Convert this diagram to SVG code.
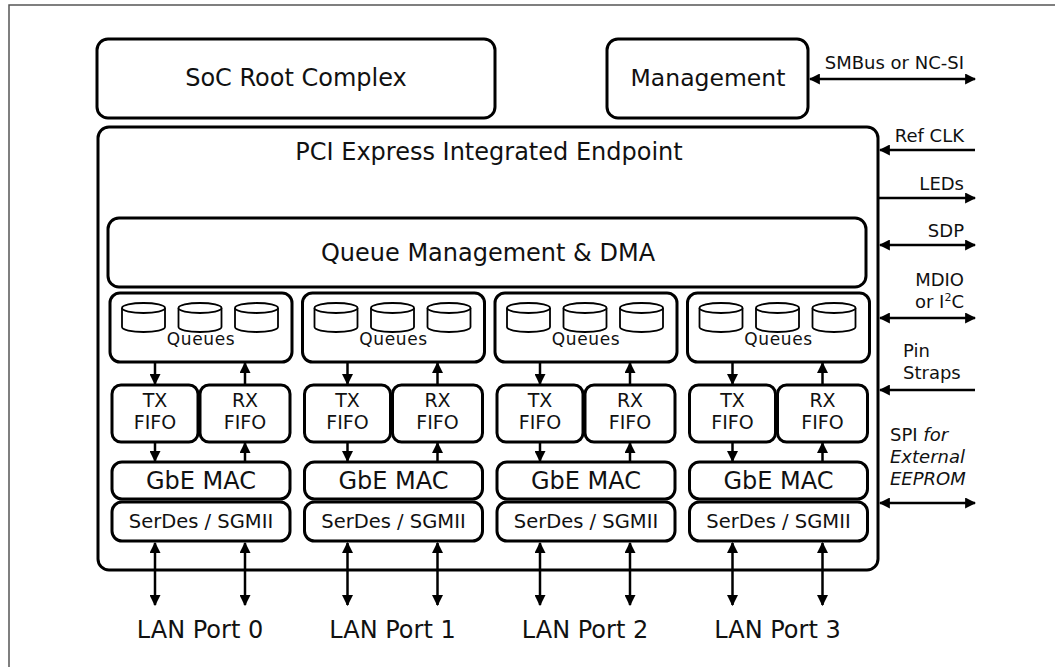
<svg xmlns="http://www.w3.org/2000/svg" width="1055" height="667" viewBox="0 0 1055 667">
<defs>
<style>
.box{fill:#fff;stroke:#000;stroke-width:3}
.cyl{fill:#fff;stroke:#000;stroke-width:1.8}
.con{stroke:#000;stroke-width:2.5;fill:none}
text{font-family:"DejaVu Sans","Verdana",sans-serif;fill:#111}
.big{font-size:24px;text-anchor:middle}
.sm{font-size:18px}
.r{text-anchor:end}
.c{text-anchor:middle}
.q{font-size:17px;letter-spacing:0.6px;text-anchor:middle}
.fifo{font-size:19px;text-anchor:middle}
.mac{font-size:24px;text-anchor:middle}
.ser{font-size:19.5px;text-anchor:middle}
.lan{font-size:24px;text-anchor:middle}
</style>
<marker id="ah" viewBox="0 0 10 10" refX="9" refY="5" markerWidth="11" markerHeight="11" markerUnits="userSpaceOnUse" orient="auto-start-reverse">
<path d="M0,0 L10,5 L0,10 z" fill="#000"/>
</marker>
<g id="cylinder">
<path d="M-21.5,0 L-21.5,19 A21.5,5 0 0 0 21.5,19 L21.5,0" class="cyl"/>
<ellipse cx="0" cy="0" rx="21.5" ry="5" class="cyl"/>
</g>
</defs>
<rect x="0" y="0" width="1055" height="667" fill="#fff"/>
<rect x="9" y="5" width="1100" height="700" fill="none" stroke="#555" stroke-width="1.5"/>

<g id="soc"><rect class="box" x="97" y="39" width="398" height="79" rx="11"/><text class="big" x="296" y="86">SoC Root Complex</text></g>
<g id="management"><rect class="box" x="607" y="39" width="201" height="79" rx="11"/><text class="big" x="708" y="86" style="font-size:23.5px">Management</text></g>
<g id="endpoint"><rect class="box" x="98" y="127" width="780" height="443" rx="11"/><text class="big" x="489" y="160">PCI Express Integrated Endpoint</text></g>
<g id="qdma"><rect class="box" x="108" y="218" width="758" height="69" rx="11"/><text class="big" x="488" y="261">Queue Management &amp; DMA</text></g>

<g id="port0">
<rect class="box" x="110" y="293" width="182" height="69" rx="10"/>
<use href="#cylinder" x="143.5" y="308"/><use href="#cylinder" x="200" y="308"/><use href="#cylinder" x="256.5" y="308"/>
<text class="q" x="201" y="345">Queues</text>
<rect class="box" x="112" y="385" width="86" height="57" rx="9"/>
<rect class="box" x="200" y="385" width="90" height="57" rx="9"/>
<text class="fifo" x="155" y="407">TX</text><text class="fifo" x="155" y="429">FIFO</text>
<text class="fifo" x="245" y="407">RX</text><text class="fifo" x="245" y="429">FIFO</text>
<rect class="box" x="112" y="462" width="178" height="37" rx="10"/>
<text class="mac" x="201" y="489">GbE MAC</text>
<rect class="box" x="112" y="502" width="178" height="39" rx="10"/>
<text class="ser" x="201" y="528">SerDes / SGMII</text>
<text class="lan" x="200" y="638">LAN Port 0</text>
</g>
<g id="port1" transform="translate(192.5,0)">
<rect class="box" x="110" y="293" width="182" height="69" rx="10"/>
<use href="#cylinder" x="143.5" y="308"/><use href="#cylinder" x="200" y="308"/><use href="#cylinder" x="256.5" y="308"/>
<text class="q" x="201" y="345">Queues</text>
<rect class="box" x="112" y="385" width="86" height="57" rx="9"/>
<rect class="box" x="200" y="385" width="90" height="57" rx="9"/>
<text class="fifo" x="155" y="407">TX</text><text class="fifo" x="155" y="429">FIFO</text>
<text class="fifo" x="245" y="407">RX</text><text class="fifo" x="245" y="429">FIFO</text>
<rect class="box" x="112" y="462" width="178" height="37" rx="10"/>
<text class="mac" x="201" y="489">GbE MAC</text>
<rect class="box" x="112" y="502" width="178" height="39" rx="10"/>
<text class="ser" x="201" y="528">SerDes / SGMII</text>
<text class="lan" x="200" y="638">LAN Port 1</text>
</g>
<g id="port2" transform="translate(385,0)">
<rect class="box" x="110" y="293" width="182" height="69" rx="10"/>
<use href="#cylinder" x="143.5" y="308"/><use href="#cylinder" x="200" y="308"/><use href="#cylinder" x="256.5" y="308"/>
<text class="q" x="201" y="345">Queues</text>
<rect class="box" x="112" y="385" width="86" height="57" rx="9"/>
<rect class="box" x="200" y="385" width="90" height="57" rx="9"/>
<text class="fifo" x="155" y="407">TX</text><text class="fifo" x="155" y="429">FIFO</text>
<text class="fifo" x="245" y="407">RX</text><text class="fifo" x="245" y="429">FIFO</text>
<rect class="box" x="112" y="462" width="178" height="37" rx="10"/>
<text class="mac" x="201" y="489">GbE MAC</text>
<rect class="box" x="112" y="502" width="178" height="39" rx="10"/>
<text class="ser" x="201" y="528">SerDes / SGMII</text>
<text class="lan" x="200" y="638">LAN Port 2</text>
</g>
<g id="port3" transform="translate(577.5,0)">
<rect class="box" x="110" y="293" width="182" height="69" rx="10"/>
<use href="#cylinder" x="143.5" y="308"/><use href="#cylinder" x="200" y="308"/><use href="#cylinder" x="256.5" y="308"/>
<text class="q" x="201" y="345">Queues</text>
<rect class="box" x="112" y="385" width="86" height="57" rx="9"/>
<rect class="box" x="200" y="385" width="90" height="57" rx="9"/>
<text class="fifo" x="155" y="407">TX</text><text class="fifo" x="155" y="429">FIFO</text>
<text class="fifo" x="245" y="407">RX</text><text class="fifo" x="245" y="429">FIFO</text>
<rect class="box" x="112" y="462" width="178" height="37" rx="10"/>
<text class="mac" x="201" y="489">GbE MAC</text>
<rect class="box" x="112" y="502" width="178" height="39" rx="10"/>
<text class="ser" x="201" y="528">SerDes / SGMII</text>
<text class="lan" x="200" y="638">LAN Port 3</text>
</g>

<g id="connectors">
<g id="port-links">
<g>
<line class="con" x1="155" y1="363" x2="155" y2="384" marker-end="url(#ah)"/>
<line class="con" x1="245" y1="384" x2="245" y2="363" marker-end="url(#ah)"/>
<line class="con" x1="155" y1="443" x2="155" y2="461" marker-end="url(#ah)"/>
<line class="con" x1="245" y1="461" x2="245" y2="443" marker-end="url(#ah)"/>
<line class="con" x1="155" y1="543" x2="155" y2="605" marker-start="url(#ah)" marker-end="url(#ah)"/>
<line class="con" x1="245" y1="543" x2="245" y2="605" marker-start="url(#ah)" marker-end="url(#ah)"/>
</g>
<g transform="translate(192.5,0)">
<line class="con" x1="155" y1="363" x2="155" y2="384" marker-end="url(#ah)"/>
<line class="con" x1="245" y1="384" x2="245" y2="363" marker-end="url(#ah)"/>
<line class="con" x1="155" y1="443" x2="155" y2="461" marker-end="url(#ah)"/>
<line class="con" x1="245" y1="461" x2="245" y2="443" marker-end="url(#ah)"/>
<line class="con" x1="155" y1="543" x2="155" y2="605" marker-start="url(#ah)" marker-end="url(#ah)"/>
<line class="con" x1="245" y1="543" x2="245" y2="605" marker-start="url(#ah)" marker-end="url(#ah)"/>
</g>
<g transform="translate(385,0)">
<line class="con" x1="155" y1="363" x2="155" y2="384" marker-end="url(#ah)"/>
<line class="con" x1="245" y1="384" x2="245" y2="363" marker-end="url(#ah)"/>
<line class="con" x1="155" y1="443" x2="155" y2="461" marker-end="url(#ah)"/>
<line class="con" x1="245" y1="461" x2="245" y2="443" marker-end="url(#ah)"/>
<line class="con" x1="155" y1="543" x2="155" y2="605" marker-start="url(#ah)" marker-end="url(#ah)"/>
<line class="con" x1="245" y1="543" x2="245" y2="605" marker-start="url(#ah)" marker-end="url(#ah)"/>
</g>
<g transform="translate(577.5,0)">
<line class="con" x1="155" y1="363" x2="155" y2="384" marker-end="url(#ah)"/>
<line class="con" x1="245" y1="384" x2="245" y2="363" marker-end="url(#ah)"/>
<line class="con" x1="155" y1="443" x2="155" y2="461" marker-end="url(#ah)"/>
<line class="con" x1="245" y1="461" x2="245" y2="443" marker-end="url(#ah)"/>
<line class="con" x1="155" y1="543" x2="155" y2="605" marker-start="url(#ah)" marker-end="url(#ah)"/>
<line class="con" x1="245" y1="543" x2="245" y2="605" marker-start="url(#ah)" marker-end="url(#ah)"/>
</g>
</g>
<g id="side-links">
<line class="con" x1="810" y1="79" x2="975" y2="79" marker-start="url(#ah)" marker-end="url(#ah)"/>
<text class="sm r" x="964" y="69">SMBus or NC-SI</text>
<line class="con" x1="975" y1="150" x2="880" y2="150" marker-end="url(#ah)"/>
<text class="sm r" x="964" y="142">Ref CLK</text>
<line class="con" x1="879" y1="198" x2="975" y2="198" marker-end="url(#ah)"/>
<text class="sm r" x="964" y="190">LEDs</text>
<line class="con" x1="880" y1="245" x2="975" y2="245" marker-start="url(#ah)" marker-end="url(#ah)"/>
<text class="sm r" x="964" y="237">SDP</text>
<line class="con" x1="880" y1="318" x2="975" y2="318" marker-start="url(#ah)" marker-end="url(#ah)"/>
<text class="sm r" x="964" y="286">MDIO</text>
<text class="sm r" x="964" y="308">or I<tspan font-size="11" dy="-7">2</tspan><tspan dy="7">C</tspan></text>
<line class="con" x1="975" y1="390" x2="880" y2="390" marker-end="url(#ah)"/>
<text class="sm" x="903" y="357">Pin</text>
<text class="sm" x="903" y="379">Straps</text>
<line class="con" x1="880" y1="503" x2="975" y2="503" marker-start="url(#ah)" marker-end="url(#ah)"/>
<text class="sm" x="890" y="441">SPI <tspan font-style="italic">for</tspan></text>
<text class="sm" x="890" y="463" font-style="italic">External</text>
<text class="sm" x="890" y="485" font-style="italic">EEPROM</text>
</g>
</g>
</svg>
